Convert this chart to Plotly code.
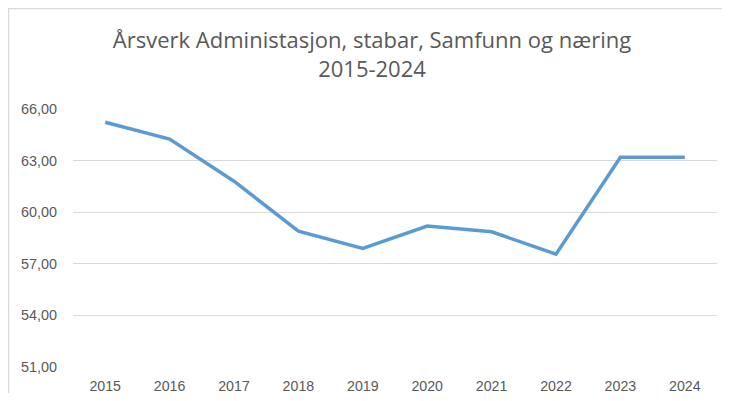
import plotly.graph_objects as go

years = ["2015", "2016", "2017", "2018", "2019", "2020", "2021", "2022", "2023", "2024"]
arsverk = [65.23, 64.25, 61.80, 58.90, 57.89, 59.19, 58.86, 57.56, 63.20, 63.20]
y_ticks = [51, 54, 57, 60, 63, 66]
y_tick_labels = ["51,00", "54,00", "57,00", "60,00", "63,00", "66,00"]

# the page body adds an 8px margin on every side; keep the figure inside the window
W, H = 714, 385
L, R, T, B = 65, 5, 101, 26
pw, ph = W - L - R, H - T - B

fig = go.Figure()
fig.add_trace(go.Scatter(
    x=years, y=arsverk, mode="lines",
    line=dict(color="#5B9BD5", width=3.5),
    hoverinfo="skip", showlegend=False,
))

def px_x(p):
    return (p - L) / pw

def px_y(p):
    return 1 - (p - T) / ph

fig.update_layout(
    width=W, height=H,
    margin=dict(l=L, r=R, t=T, b=B, autoexpand=False),
    paper_bgcolor="white", plot_bgcolor="white",
    title=dict(
        text="Årsverk Administasjon, stabar, Samfunn og næring<br>2015-2024",
        x=(372 - 8) / W, xref="container", xanchor="center",
        y=1 - 40 / H, yref="container", yanchor="middle",
        font=dict(family="Open Sans", size=22, color="#595959"),
    ),
    xaxis=dict(
        type="category", range=[-0.5, 9.5], automargin=False,
        showgrid=False, zeroline=False, showline=False, ticks="",
        tickfont=dict(family="Liberation Sans", size=14.2, color="#595959"),
        ticklabelstandoff=9,
    ),
    yaxis=dict(
        range=[51, 66], tickvals=y_ticks, ticktext=y_tick_labels, automargin=False,
        showgrid=True, gridcolor="#D9D9D9", gridwidth=1,
        zeroline=False, showline=False, ticks="",
        tickfont=dict(family="Liberation Sans", size=14.4, color="#595959"),
        ticklabelstandoff=15,
    ),
    shapes=[
        dict(type="line", xref="paper", yref="paper",
             x0=px_x(0), x1=px_x(W + 5), y0=px_y(0.6), y1=px_y(0.6),
             line=dict(color="#D9D9D9", width=1.2)),
        dict(type="line", xref="paper", yref="paper",
             x0=px_x(0.6), x1=px_x(0.6), y0=px_y(0), y1=px_y(H + 5),
             line=dict(color="#D9D9D9", width=1.2)),
    ],
)

fig.write_html("out.html")
